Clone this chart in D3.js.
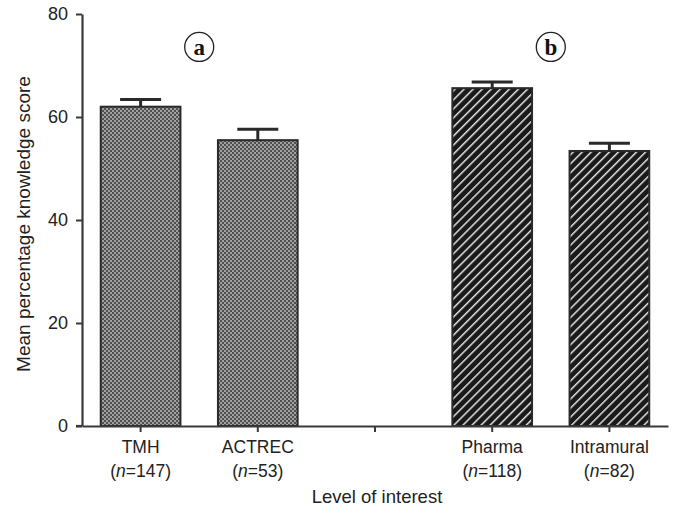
<!DOCTYPE html>
<html>
<head>
<meta charset="utf-8">
<script src="https://cdn.jsdelivr.net/npm/d3@7"></script>
<style>
  body { margin: 0; background: #fff; }
  svg { display: block; }
</style>
</head>
<body>
<div id="chart"></div>
<script>
// ---- data ----
const categories = ["TMH", "ACTREC", "", "Pharma", "Intramural"];
const sampleSizes = [147, 53, null, 118, 82];
const meanScores = [62.0, 55.5, null, 65.6, 53.4];
const errorUpper = [63.4, 57.6, null, 66.8, 54.9];
const groupKeys = ["a", "a", null, "b", "b"];
const groupLabels = ["a", "b"];
const yTicks = [0, 20, 40, 60, 80];

const W = 676, H = 506;
const margin = { left: 82, right: 8, top: 14, bottom: 80 };
const SANS = "Liberation Sans, Arial, Helvetica, sans-serif";

const svg = d3.select("#chart").append("svg").attr("width", W).attr("height", H);

const defs = svg.append("defs");
// checkered pattern for group a
const chk = defs.append("pattern").attr("id", "checker")
  .attr("patternUnits", "userSpaceOnUse").attr("width", 4).attr("height", 4);
chk.append("rect").attr("width", 4).attr("height", 4).attr("fill", "#a0a0a0");
chk.append("rect").attr("width", 2).attr("height", 2).attr("fill", "#505050");
chk.append("rect").attr("x", 2).attr("y", 2).attr("width", 2).attr("height", 2).attr("fill", "#505050");
// hatch pattern for group b
const hatch = defs.append("pattern").attr("id", "hatch")
  .attr("patternUnits", "userSpaceOnUse").attr("width", 6.4).attr("height", 6.4)
  .attr("patternTransform", "rotate(45)");
hatch.append("rect").attr("width", 6.4).attr("height", 6.4).attr("fill", "#1a1a1a");
hatch.append("rect").attr("x", 0).attr("y", 0).attr("width", 1.5).attr("height", 6.4).attr("fill", "#e0e0e0");

const x = d3.scaleBand()
  .domain(categories.map((c, i) => i))
  .range([margin.left, W - margin.right])
  .paddingInner(0.32).paddingOuter(0.16);

const y = d3.scaleLinear().domain([0, 80]).range([426, margin.top]);

const rows = categories.map((c, i) => ({
  i, name: c, n: sampleSizes[i], mean: meanScores[i], err: errorUpper[i], group: groupKeys[i]
})).filter(d => d.mean != null);

// bars
svg.append("g").selectAll("rect").data(rows).join("rect")
  .attr("x", d => x(d.i))
  .attr("y", d => y(d.mean))
  .attr("width", x.bandwidth())
  .attr("height", d => y(0) - y(d.mean))
  .attr("fill", d => d.group === "a" ? "url(#checker)" : "url(#hatch)")
  .attr("stroke", "#2a2a2a").attr("stroke-width", 2);

// error bars
const eb = svg.append("g").attr("stroke", "#2a2a2a").attr("stroke-width", 3);
eb.selectAll("line.v").data(rows).join("line").attr("class", "v")
  .attr("x1", d => x(d.i) + x.bandwidth() / 2).attr("x2", d => x(d.i) + x.bandwidth() / 2)
  .attr("y1", d => y(d.mean)).attr("y2", d => y(d.err));
eb.selectAll("line.c").data(rows).join("line").attr("class", "c")
  .attr("x1", d => x(d.i) + x.bandwidth() / 2 - 20.5).attr("x2", d => x(d.i) + x.bandwidth() / 2 + 20.5)
  .attr("y1", d => y(d.err)).attr("y2", d => y(d.err));

// axes
const yAxis = svg.append("g").attr("transform", `translate(${margin.left},0)`)
  .call(d3.axisLeft(y).tickValues(yTicks).tickSize(6).tickSizeOuter(0).tickPadding(8));
const xAxis = svg.append("g").attr("transform", `translate(0,${y(0)})`)
  .call(d3.axisBottom(x).tickSize(6).tickSizeOuter(0).tickFormat(() => ""));
[yAxis, xAxis].forEach(a => {
  a.select(".domain").attr("stroke", "#3a3a3a").attr("stroke-width", 2.2);
  a.selectAll(".tick line").attr("stroke", "#3a3a3a").attr("stroke-width", 2);
});
yAxis.attr("font-size", 18).attr("font-family", SANS);
yAxis.selectAll(".tick text").attr("fill", "#222");
// extend x axis to the left of the y axis slightly
svg.append("line").attr("x1", margin.left - 6).attr("x2", margin.left)
  .attr("y1", y(0)).attr("y2", y(0)).attr("stroke", "#3a3a3a").attr("stroke-width", 2.2);

// category labels
const lab = svg.append("g").attr("font-family", SANS).attr("font-size", 17.5).attr("fill", "#222")
  .selectAll("g").data(rows).join("g")
  .attr("transform", d => `translate(${x(d.i) + x.bandwidth() / 2},0)`);
lab.append("text").attr("y", 453).attr("text-anchor", "middle").text(d => d.name);
const t2 = lab.append("text").attr("y", 477).attr("text-anchor", "middle");
t2.append("tspan").text("(");
t2.append("tspan").attr("font-style", "italic").text("n");
t2.append("tspan").text(d => "=" + d.n + ")");

// axis titles
svg.append("text").attr("x", 377).attr("y", 503).attr("text-anchor", "middle")
  .attr("font-family", SANS).attr("fill", "#222")
  .attr("font-size", 18.5).text("Level of interest");
svg.append("text").attr("transform", `translate(30,224) rotate(-90)`)
  .attr("font-family", SANS).attr("fill", "#222")
  .attr("text-anchor", "middle").attr("font-size", 19).text("Mean percentage knowledge score");

// group labels (circled letters)
const gl = svg.append("g").selectAll("g").data(groupLabels).join("g")
  .attr("transform", g => {
    const idx = groupKeys.map((k, i) => k === g ? i : -1).filter(i => i >= 0);
    const cx = (x(idx[0]) + x(idx[idx.length - 1]) + x.bandwidth()) / 2;
    return `translate(${cx},${y(73.6)})`;
  });
gl.append("circle").attr("r", 14.5).attr("fill", "none").attr("stroke", "#222").attr("stroke-width", 1.3);
gl.append("text").attr("text-anchor", "middle").attr("dy", "0.33em").attr("fill", "#111")
  .attr("font-family", "Liberation Serif, Times New Roman, serif").attr("font-weight", "bold")
  .attr("font-size", 23).text(g => g);
</script>
</body>
</html>
